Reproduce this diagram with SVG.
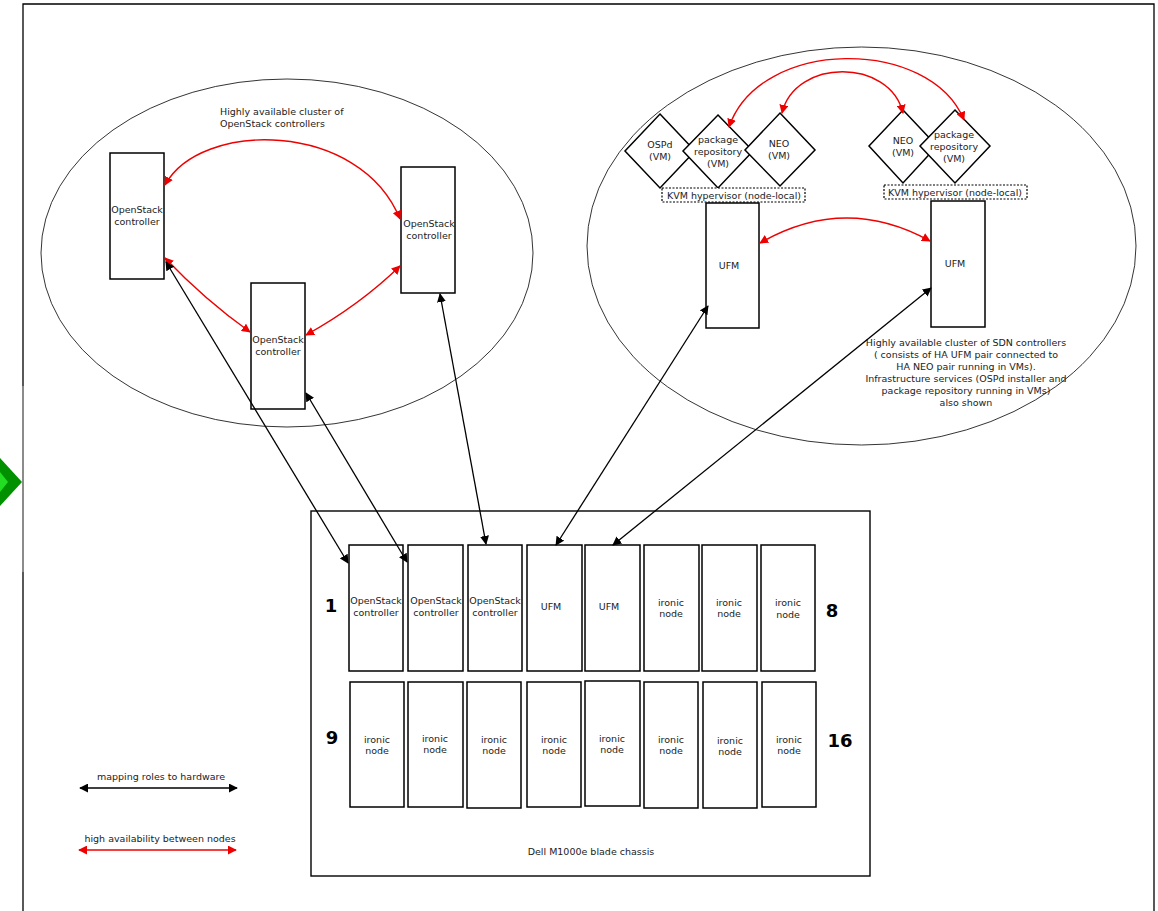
<svg xmlns="http://www.w3.org/2000/svg" width="1158" height="911" viewBox="0 0 1158 911">
<style>
text{font-family:"DejaVu Sans","Liberation Sans",sans-serif;font-size:9.5px;fill:#222;text-anchor:middle}
.lt{text-anchor:start}
.num{font-size:18px;font-weight:bold;fill:#000}
.box{fill:#fff;stroke:#000;stroke-width:1.5}
.ell{fill:none;stroke:#000;stroke-width:0.8}
.dia{fill:#fff;stroke:#000;stroke-width:1.5}
.kvm{fill:#fff;stroke:#000;stroke-width:1.2;stroke-dasharray:2,1.5}
.ha{fill:none;stroke:#e00;stroke-width:1.4;marker-start:url(#ra);marker-end:url(#ra)}
.map{fill:none;stroke:#000;stroke-width:1.3;marker-start:url(#ka);marker-end:url(#ka)}
</style>
<defs>
<marker id="ra" viewBox="0 0 10 10" refX="9" refY="5" markerWidth="9" markerHeight="9" markerUnits="userSpaceOnUse" orient="auto-start-reverse"><path d="M0,0 L10,5 L0,10 z" fill="#e00"/></marker>
<marker id="ka" viewBox="0 0 10 10" refX="9" refY="5" markerWidth="9" markerHeight="9" markerUnits="userSpaceOnUse" orient="auto-start-reverse"><path d="M0,0 L10,5 L0,10 z" fill="#000"/></marker>
</defs>
<rect width="1158" height="911" fill="#fff"/>
<g id="frame">
<path d="M23,915 V4 H1154 V915" fill="none" stroke="#000" stroke-width="1.3"/>
<line x1="23" y1="386" x2="23" y2="572" stroke="#999" stroke-width="1.6"/>
<path d="M0,458 L22,482 L0,506 z" fill="#009000"/>
<path d="M0,472 L8,482 L0,492 z" fill="#22dd22"/>
</g>
<g id="cluster-openstack">
<ellipse class="ell" cx="287" cy="253" rx="246" ry="174"/>
<text class="lt" x="220" y="115">Highly available cluster of</text>
<text class="lt" x="220" y="127">OpenStack controllers</text>
</g>
<g id="cluster-sdn">
<ellipse class="ell" cx="861.5" cy="246" rx="274.5" ry="199"/>
<text x="966" y="346">Highly available cluster of SDN controllers</text>
<text x="966" y="358">( consists of HA UFM pair connected to</text>
<text x="966" y="370">HA NEO pair running in VMs).</text>
<text x="966" y="382">Infrastructure services (OSPd installer and</text>
<text x="966" y="394">package repository running in VMs)</text>
<text x="966" y="406">also shown</text>
</g>
<g id="os-ctrl-a"><rect class="box" x="110" y="153" width="54" height="126"/><text x="137" y="213">OpenStack</text><text x="137" y="225">controller</text></g>
<g id="os-ctrl-b"><rect class="box" x="401" y="167" width="54" height="126"/><text x="429" y="227">OpenStack</text><text x="429" y="239">controller</text></g>
<g id="os-ctrl-c"><rect class="box" x="251" y="283" width="54" height="126"/><text x="278" y="343">OpenStack</text><text x="278" y="355">controller</text></g>
<g id="vm-ospd"><path class="dia" d="M660,114 L695,151 L660,188 L625,151 z"/><text x="660" y="148">OSPd</text><text x="660" y="160">(VM)</text></g>
<g id="vm-pkg-1"><path class="dia" d="M718,115 L753,151 L718,188 L683,151 z"/><text x="718" y="143">package</text><text x="718" y="155">repository</text><text x="718" y="167">(VM)</text></g>
<g id="vm-neo-1"><path class="dia" d="M780,113 L815,150 L780,186 L745,150 z"/><text x="779" y="147">NEO</text><text x="779" y="159">(VM)</text></g>
<g id="vm-neo-2"><path class="dia" d="M903,110 L937,146 L903,183 L869,146 z"/><text x="903" y="144">NEO</text><text x="903" y="156">(VM)</text></g>
<g id="vm-pkg-2"><path class="dia" d="M955,110 L990,146 L955,183 L920,146 z"/><text x="954" y="138">package</text><text x="954" y="150">repository</text><text x="954" y="162">(VM)</text></g>
<g id="kvm-1"><rect class="kvm" x="662" y="188" width="143" height="14"/><text x="734" y="198.5">KVM hypervisor (node-local)</text></g>
<g id="kvm-2"><rect class="kvm" x="884" y="185" width="143" height="14"/><text x="955" y="195.5">KVM hypervisor (node-local)</text></g>
<g id="ufm-1"><rect class="box" x="706" y="203" width="53" height="125"/><text x="729" y="269">UFM</text></g>
<g id="ufm-2"><rect class="box" x="931" y="201" width="54" height="126"/><text x="955" y="267">UFM</text></g>
<g id="chassis">
<rect x="311" y="511" width="559" height="365" fill="none" stroke="#000" stroke-width="1.4"/>
<text x="591" y="855">Dell M1000e blade chassis</text>
<text class="num" x="331" y="612">1</text>
<text class="num" x="832" y="617">8</text>
<text class="num" x="332" y="744">9</text>
<text class="num" x="840" y="747">16</text>
</g>
<g id="blade-1"><rect class="box" x="349" y="545" width="54" height="126"/><text x="376" y="604">OpenStack</text><text x="376" y="616">controller</text></g>
<g id="blade-2"><rect class="box" x="408" y="545" width="55" height="126"/><text x="436" y="604">OpenStack</text><text x="436" y="616">controller</text></g>
<g id="blade-3"><rect class="box" x="468" y="545" width="54" height="126"/><text x="495" y="604">OpenStack</text><text x="495" y="616">controller</text></g>
<g id="blade-4"><rect class="box" x="527" y="545" width="55" height="126"/><text x="551" y="610">UFM</text></g>
<g id="blade-5"><rect class="box" x="585" y="545" width="55" height="126"/><text x="609" y="610">UFM</text></g>
<g id="blade-6"><rect class="box" x="644" y="545" width="55" height="126"/><text x="671" y="606">ironic</text><text x="671" y="617">node</text></g>
<g id="blade-7"><rect class="box" x="702" y="545" width="55" height="126"/><text x="729" y="606">ironic</text><text x="729" y="617">node</text></g>
<g id="blade-8"><rect class="box" x="761" y="545" width="54" height="126"/><text x="788" y="606">ironic</text><text x="788" y="618">node</text></g>
<g id="blade-9"><rect class="box" x="350" y="682" width="54" height="125"/><text x="377" y="743">ironic</text><text x="377" y="754">node</text></g>
<g id="blade-10"><rect class="box" x="408" y="682" width="55" height="125"/><text x="435" y="742">ironic</text><text x="435" y="753">node</text></g>
<g id="blade-11"><rect class="box" x="467" y="682" width="54" height="126"/><text x="494" y="743">ironic</text><text x="494" y="754">node</text></g>
<g id="blade-12"><rect class="box" x="527" y="682" width="54" height="125"/><text x="554" y="743">ironic</text><text x="554" y="754">node</text></g>
<g id="blade-13"><rect class="box" x="585" y="681" width="55" height="125"/><text x="612" y="742">ironic</text><text x="612" y="753">node</text></g>
<g id="blade-14"><rect class="box" x="644" y="682" width="54" height="126"/><text x="671" y="743">ironic</text><text x="671" y="754">node</text></g>
<g id="blade-15"><rect class="box" x="703" y="682" width="54" height="126"/><text x="730" y="744">ironic</text><text x="730" y="755">node</text></g>
<g id="blade-16"><rect class="box" x="762" y="682" width="54" height="125"/><text x="789" y="743">ironic</text><text x="789" y="754">node</text></g>
<g id="connectors">
<path class="ha" d="M165,185 C200,120 360,120 400,219"/>
<path class="ha" d="M165,258 Q205,300 250,332"/>
<path class="ha" d="M306,335 Q360,305 400,266"/>
<path class="ha" d="M729,127 C760,37 930,37 964,120"/>
<path class="ha" d="M782,113 C795,58 890,58 903,113"/>
<path class="ha" d="M760,243 Q845,194 930,241"/>
<path class="map" d="M166,262 L348,563"/>
<path class="map" d="M306,393 L407,562"/>
<path class="map" d="M440,294 L486,544"/>
<path class="map" d="M708,306 L556,545"/>
<path class="map" d="M931,288 L613,545"/>
</g>
<g id="legend">
<text x="161" y="780">mapping roles to hardware</text>
<path class="map" d="M80,788 L237,788"/>
<text x="160" y="842">high availability between nodes</text>
<path class="ha" d="M79,850 L236,850"/>
</g>
</svg>
